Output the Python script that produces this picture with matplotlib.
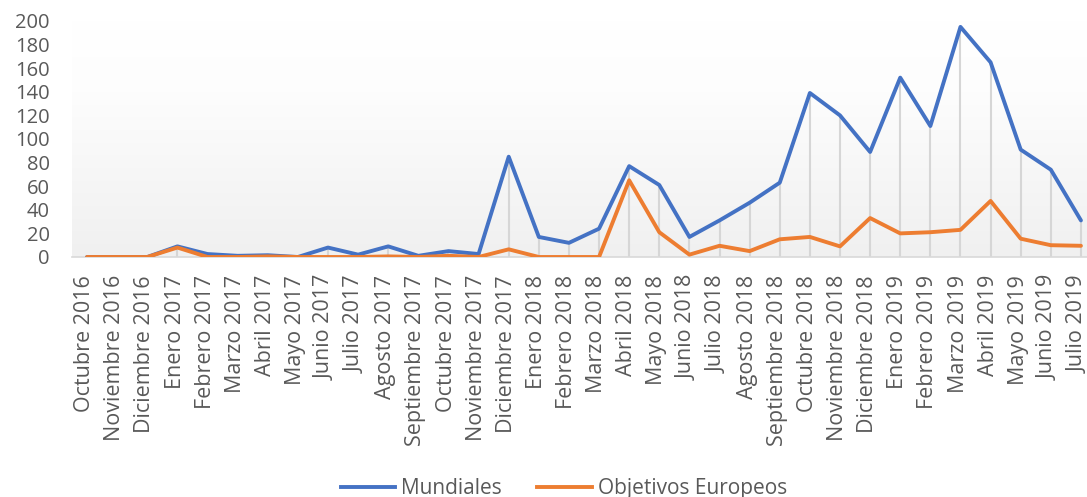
import numpy as np
import matplotlib
matplotlib.use("Agg")
import matplotlib.pyplot as plt
from matplotlib.lines import Line2D
from matplotlib.colors import LinearSegmentedColormap

months = ["Octubre 2016", "Noviembre 2016", "Diciembre 2016",
          "Enero 2017", "Febrero 2017", "Marzo 2017", "Abril 2017", "Mayo 2017",
          "Junio 2017", "Julio 2017", "Agosto 2017", "Septiembre 2017",
          "Octubre 2017", "Noviembre 2017", "Diciembre 2017",
          "Enero 2018", "Febrero 2018", "Marzo 2018", "Abril 2018", "Mayo 2018",
          "Junio 2018", "Julio 2018", "Agosto 2018", "Septiembre 2018",
          "Octubre 2018", "Noviembre 2018", "Diciembre 2018",
          "Enero 2019", "Febrero 2019", "Marzo 2019", "Abril 2019", "Mayo 2019",
          "Junio 2019", "Julio 2019"]
mundiales = [0, 0, 0, 9, 2.5, 1, 1.5, 0, 8, 2, 9, 1, 5, 2.5, 85,
             17, 12, 24, 77, 61, 17, 31, 46, 63,
             139, 120, 89, 152, 111, 195, 165, 91, 74, 31]
europeos = [0, 0, 0, 8, 0, 0, 0.5, 0, 0, 0, 0.5, 0, 1, 0, 6.5,
            0, 0, 0, 65, 21, 2, 9.5, 5, 15,
            17, 9, 33, 20, 21, 23, 47.5, 15.5, 10, 9.5]
yticks = list(range(0, 201, 20))

W, H = 1087, 497
fig = plt.figure(figsize=(W / 100, H / 100), dpi=100)
plt.rcParams['font.family'] = ['Open Sans', 'DejaVu Sans']
txt = '#595959'

left, right = 72, 1096
bottom, top = 257, 21
ax = fig.add_axes([left / W, (H - bottom) / H, (right - left) / W, (bottom - top) / H])
ax.set_xlim(-0.5, len(months) - 0.5)
ax.set_ylim(0, 200)

# gradient background
grad = np.linspace(0, 1, 256).reshape(-1, 1)
cmap = LinearSegmentedColormap.from_list('g', [(0, '#f0f0f0'), (0.7, '#fdfdfd'), (1, '#ffffff')])
ax.imshow(grad, aspect='auto', cmap=cmap, origin='lower',
          extent=(-0.5, len(months) - 0.5, 0, 200), zorder=0)

x = np.arange(len(months))
tops = np.maximum(mundiales, europeos)
ax.vlines(x, 0, tops, color='#d6d6d6', lw=1.5, zorder=1)
ax.plot(x, mundiales, color='#4472C4', lw=2.8, solid_joinstyle='round', solid_capstyle='round', zorder=3)
ax.plot(x, europeos, color='#ED7D31', lw=2.8, solid_joinstyle='round', solid_capstyle='round', zorder=3)

for s in ['top', 'right', 'left']:
    ax.spines[s].set_visible(False)
ax.spines['bottom'].set_color('#d9d9d9')
ax.spines['bottom'].set_linewidth(1.2)
# labels sit slightly left of each category, as in the reference
ax.set_xticks(x - 0.08)
ax.set_xticklabels(months, rotation=90, fontsize=15.5, color=txt)
ax.set_yticks(yticks)
ax.set_yticklabels([str(v) for v in yticks], fontsize=14.5, color=txt)
ax.tick_params(axis='x', length=0, pad=13)
ax.tick_params(axis='y', length=0, pad=16)

handles = [Line2D([], [], color='#4472C4', lw=2.8), Line2D([], [], color='#ED7D31', lw=2.8)]
fig.legend(handles, ['Mundiales', 'Objetivos Europeos'], loc='center',
           bbox_to_anchor=(564 / W, 1 - 488.5 / H), ncol=2, frameon=False,
           fontsize=15, labelcolor=txt, handlelength=2.6, handletextpad=0.3,
           columnspacing=1.7)

fig.savefig('out.png', dpi=100)
